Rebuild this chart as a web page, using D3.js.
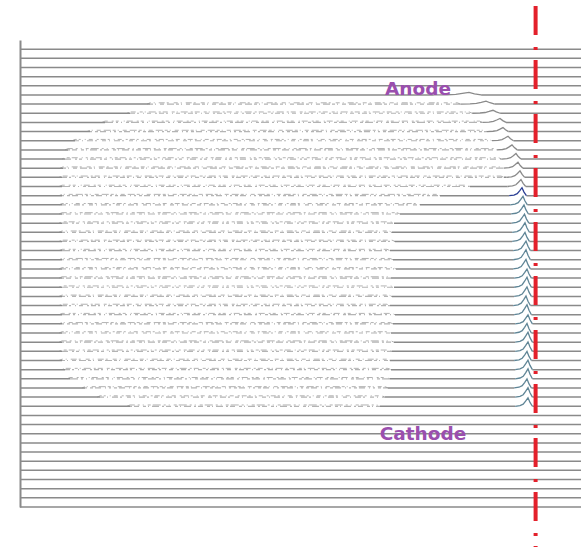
<!DOCTYPE html>
<html lang="en">
  <head>
    <meta charset="utf-8">
    <title>Waterfall - Anode / Cathode</title>
    <style>
      html, body { margin: 0; padding: 0; background: #fff; }
      .trace { fill: none; stroke: #8a8a8a; stroke-width: 1.5; }
      .plateau-base { fill: none; stroke: #b4b4b4; stroke-width: 1.2; }
      .plateau-noise { fill: none; stroke: #8c8c8c; stroke-width: 0.9; opacity: 0.75; }
      .peak { fill: none; stroke-width: 1.3; stroke-linejoin: miter; }
      .axis path { stroke: #8a8a8a; stroke-width: 2; }
      .label { font-family: "DejaVu Sans", Verdana, sans-serif; font-weight: bold; font-size: 18.5px; fill: #9a4fae; }
    </style>
  </head>
  <body>
    <div class="chart" id="container"></div>

    <script src="https://cdn.jsdelivr.net/npm/d3@7"></script>
    <script type="text/javascript">
      var width = 581,
          height = 547;

      // one trace per scan line, top (anode side) to bottom (cathode side)
      var scanLines = [1,2,3,4,5,6,7,8,9,10,11,12,13,14,15,16,17,18,19,20,21,22,23,24,25,
                       26,27,28,29,30,31,32,33,34,35,36,37,38,39,40,41,42,43,44,45,46,47,48,49,50,51];

      // start / end of the noisy plateau (mm), null = no plateau
      var plateauStart = [null,null,null,null,null,null,13.0,11.0,8.5,7.0,5.5,4.8,4.5,4.3,4.2,4.2,4.2,4.2,4.2,4.2,
                          4.2,4.2,4.2,4.2,4.2,4.2,4.2,4.2,4.2,4.2,4.2,4.2,4.2,4.2,4.2,4.5,5.0,6.5,8.0,11.0,
                          null,null,null,null,null,null,null,null,null,null,null];
      var plateauEnd   = [null,null,null,null,null,null,46.0,46.6,47.2,47.6,48.0,48.3,48.5,48.6,48.4,45.0,42.0,40.0,38.0,37.4,
                          37.2,37.5,37.0,37.3,37.6,37.1,37.4,37.2,37.0,37.5,37.3,37.1,37.4,37.2,37.0,37.1,37.0,36.8,36.5,36.0,
                          null,null,null,null,null,null,null,null,null,null,null];

      // peak position (mm), height (a.u.) and width (mm), null = no peak
      var peakPos    = [null,null,null,null,null,44.9,46.6,47.3,48.0,48.3,48.8,49.2,49.6,49.8,50.0,50.1,50.2,50.3,50.4,50.45,
                        50.5,50.5,50.6,50.6,50.6,50.7,50.7,50.7,50.6,50.7,50.8,50.7,50.8,50.8,50.7,50.8,50.8,50.7,50.8,50.8,
                        null,null,null,null,null,null,null,null,null,null,null];
      var peakHeight = [null,null,null,null,null,0.25,0.3,0.3,0.4,0.4,0.45,0.5,0.55,0.6,0.65,0.7,0.8,0.85,0.9,0.9,
                        0.95,0.9,0.95,1.0,0.95,0.9,1.0,0.95,0.95,1.0,0.9,0.95,1.0,0.95,0.9,0.95,1.0,0.9,0.95,0.85,
                        null,null,null,null,null,null,null,null,null,null,null];
      var peakWidth  = [null,null,null,null,null,2.2,1.6,1.3,1.1,1.0,1.0,0.95,0.9,0.9,0.85,0.85,0.8,0.8,0.8,0.8,
                        0.8,0.8,0.8,0.8,0.8,0.8,0.8,0.8,0.8,0.8,0.8,0.8,0.8,0.8,0.8,0.8,0.8,0.8,0.8,0.8,
                        null,null,null,null,null,null,null,null,null,null,null];

      var plateauLevel = 0.13;   // a.u.
      var markerPos = 51.56;     // mm, red dash-dot marker

      var labels = [
        {text: "Anode",   x: 39.8, row: 5.0},
        {text: "Cathode", x: 40.3, row: 42.7}
      ];

      // peak template (relative to width and height)
      var peakShapeX = [-1.6, -1.0, -0.6, -0.3, 0, 0.25, 0.55];
      var peakShapeY = [0, 0.08, 0.25, 0.6, 1, 0.45, 0];

      var noisePatterns = ["4 3 1 4 6 2 2 5", "2 2 5 4 3 2 1 3 7 3", "6 4 2 2 3 5 1 2",
                           "3 2 1 4 4 3 7 2", "5 2 2 4 1 3 4 4 2 2", "8 3 2 3 1 4 3 2", "2 3 3 2 6 4 1 3"];

      var x = d3.scaleLinear().domain([0, 58]).range([20, 600]);
      var y = d3.scaleLinear().domain([-1, 50]).range([40, 507]);
      var amp = d3.scaleLinear().domain([0, 1]).range([0, 10]);

      var svg = d3.select(".chart")
        .append("svg")
          .attr("width", width)
          .attr("height", height);

      var line = d3.line()
          .x(function(p) { return x(p[0]); })
          .y(function(p) { return y(p[1]) - amp(p[2]); });

      var rows = scanLines.map(function(s, i) {
        return {
          id: s, row: i,
          pStart: plateauStart[i], pEnd: plateauEnd[i],
          peak: peakPos[i], h: peakHeight[i], w: peakWidth[i]
        };
      });

      function peakStart(d) { return d.peak + peakShapeX[0] * d.w; }
      function peakEnd(d) { return d.peak + peakShapeX[peakShapeX.length - 1] * d.w; }

      var g = svg.append("g");

      // solid baseline parts of each trace
      g.selectAll(".trace")
        .data(rows)
        .enter().append("path")
          .attr("class", "trace")
          .attr("d", function(d) {
            var segs = [];
            var left = d.pStart != null ? d.pStart : (d.peak != null ? peakStart(d) : x.domain()[1]);
            segs.push([[0, d.row, 0], [left, d.row, 0]]);
            if (d.pStart != null && d.peak != null) {
              var pe = Math.min(d.pEnd, peakStart(d));
              if (pe < peakStart(d)) segs.push([[pe, d.row, 0], [peakStart(d), d.row, 0]]);
            }
            if (d.peak != null) segs.push([[peakEnd(d), d.row, 0], [x.domain()[1], d.row, 0]]);
            return segs.map(function(s) { return line(s); }).join("");
          });

      // noisy plateau: broken baseline plus raised textured trace
      var plateau = rows.filter(function(d) { return d.pStart != null; });

      g.selectAll(".plateau-base")
        .data(plateau)
        .enter().append("path")
          .attr("class", "plateau-base")
          .attr("stroke-dasharray", function(d, i) { return noisePatterns[(i + 3) % noisePatterns.length]; })
          .attr("d", function(d) {
            var pe = d.peak != null ? Math.min(d.pEnd, peakStart(d)) : d.pEnd;
            return line([[d.pStart, d.row, 0], [pe, d.row, 0]]);
          });

      g.selectAll(".plateau-noise")
        .data(plateau)
        .enter().append("path")
          .attr("class", "plateau-noise")
          .attr("stroke-dasharray", function(d, i) { return noisePatterns[i % noisePatterns.length]; })
          .attr("d", function(d) {
            var pe = d.peak != null ? Math.min(d.pEnd, peakStart(d)) : d.pEnd;
            return line([[d.pStart - 0.3, d.row, 0], [d.pStart, d.row, plateauLevel],
                         [pe - 0.3, d.row, plateauLevel], [pe, d.row, 0]]);
          });

      // peaks
      g.selectAll(".peak")
        .data(rows.filter(function(d) { return d.peak != null; }))
        .enter().append("path")
          .attr("class", "peak")
          .attr("stroke", function(d) {
            if (d.row === 16) return "#2b3f94";
            return d.row > 16 ? "#5f8596" : "#8a8a8a";
          })
          .attr("d", function(d) {
            return line(peakShapeX.map(function(px, k) {
              return [d.peak + px * d.w, d.row, peakShapeY[k] * d.h];
            }));
          });

      // left axis
      svg.append("g")
        .attr("class", "axis")
        .attr("transform", "translate(" + x(0) + ",0)")
        .call(d3.axisLeft(y).tickValues([]).tickSizeOuter(0));

      // marker line
      svg.append("line")
        .attr("x1", x(markerPos)).attr("x2", x(markerPos))
        .attr("y1", 6).attr("y2", height)
        .attr("stroke", "#e3202b")
        .attr("stroke-width", 4)
        .attr("stroke-dasharray", "29 12 3 10");

      svg.selectAll(".label")
        .data(labels)
        .enter().append("text")
          .attr("class", "label")
          .attr("text-anchor", "middle")
          .attr("x", function(d) { return x(d.x); })
          .attr("y", function(d) { return y(d.row); })
          .text(function(d) { return d.text; });
    </script>
  </body>
</html>
